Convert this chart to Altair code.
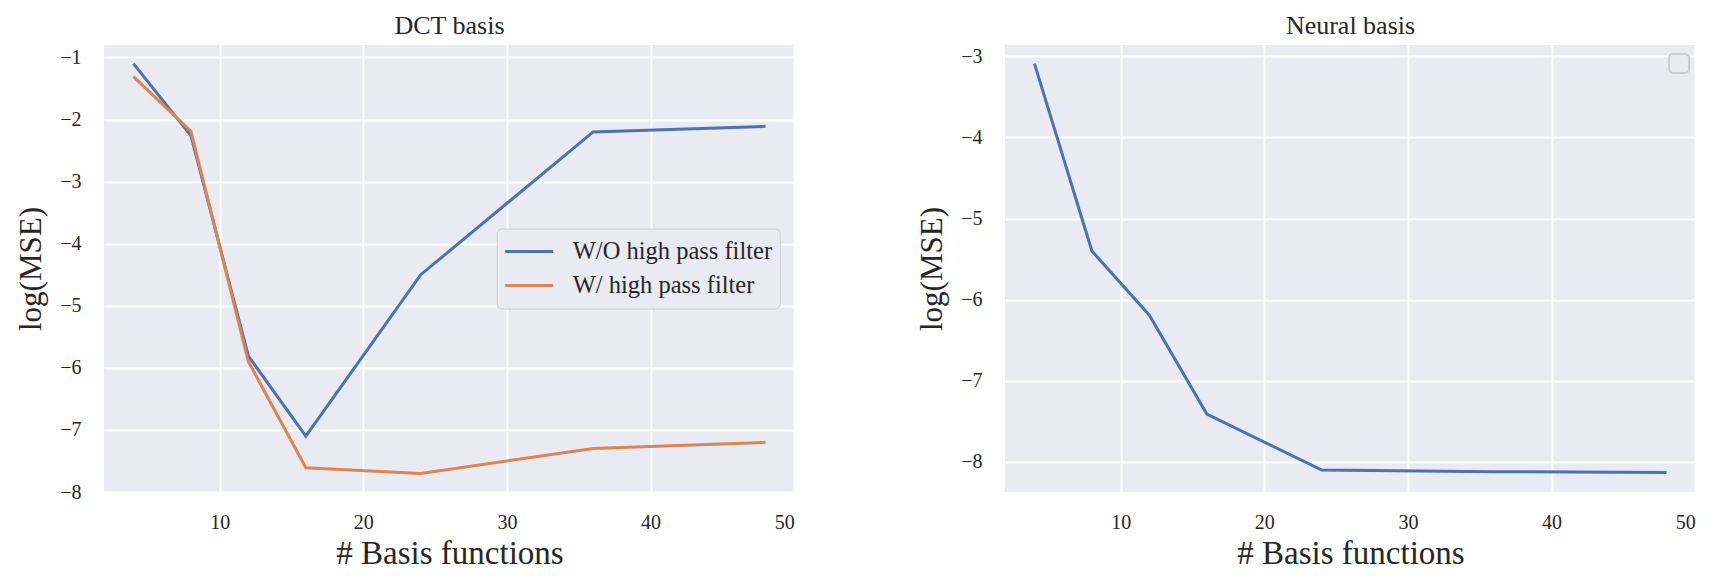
import altair as alt
import pandas as pd

# ---- data ----
n_basis = [4, 8, 12, 16, 24, 36, 48]
dct_without_hp = [-1.10, -2.26, -5.81, -7.10, -4.50, -2.20, -2.11]
dct_with_hp = [-1.31, -2.19, -5.90, -7.61, -7.70, -7.30, -7.20]
neural = [-3.09, -5.40, -6.19, -7.41, -8.10, -8.12, -8.13]

series_names = ["W/O high pass filter", "W/ high pass filter"]
series_colors = ["#4C72B0", "#DD8452"]

x_ticks = [10, 20, 30, 40, 50]
dct_y_ticks = [-8, -7, -6, -5, -4, -3, -2, -1]
neural_y_ticks = [-8, -7, -6, -5, -4, -3]

dct_df = pd.DataFrame(
    {
        "n": n_basis * 2,
        "mse": dct_without_hp + dct_with_hp,
        "series": [series_names[0]] * len(n_basis) + [series_names[1]] * len(n_basis),
    }
)
neural_df = pd.DataFrame({"n": n_basis, "mse": neural})

FONT = "Liberation Serif"
TEXT = "#262626"
W, H = 691, 447

x_axis = alt.Axis(
    values=x_ticks,
    format="d",
    title="# Basis functions",
    labelPadding=20,
    titlePadding=5,
    titleFontSize=33,
)


def y_axis(vals):
    return alt.Axis(
        values=vals,
        format="d",
        title="log(MSE)",
        labelPadding=23,
        titlePadding=12,
    )


left = (
    alt.Chart(dct_df)
    .mark_line(strokeWidth=3)
    .encode(
        x=alt.X("n:Q", scale=alt.Scale(domain=[1.95, 50.05], nice=False, zero=False), axis=x_axis),
        y=alt.Y("mse:Q", scale=alt.Scale(domain=[-8.0, -0.8], nice=False, zero=False), axis=y_axis(dct_y_ticks)),
        color=alt.Color(
            "series:N",
            scale=alt.Scale(domain=series_names, range=series_colors),
            sort=series_names,
            legend=alt.Legend(
                title=None,
                orient="none",
                legendX=392.7,
                legendY=183.5,
                symbolType="stroke",
                symbolSize=2304,
                symbolStrokeWidth=3,
                labelFont=FONT,
                labelFontSize=24.5,
                labelColor=TEXT,
                labelOffset=18,
                labelLimit=500,
                clipHeight=32,
                rowPadding=2,
                padding=7,
                fillColor="#EAEAF2",
                strokeColor="#cccccc",
                cornerRadius=5,
            ),
        ),
    )
    .properties(
        width=W,
        height=H,
        title=alt.TitleParams("DCT basis", frame="group", anchor="middle", baseline="bottom", offset=-20),
    )
)

neural_line = (
    alt.Chart(neural_df)
    .mark_line(strokeWidth=3, color=series_colors[0])
    .encode(
        x=alt.X("n:Q", scale=alt.Scale(domain=[1.95, 50.05], nice=False, zero=False), axis=x_axis),
        y=alt.Y("mse:Q", scale=alt.Scale(domain=[-8.37, -2.86], nice=False, zero=False), axis=y_axis(neural_y_ticks)),
    )
)

# empty legend frame (matplotlib drew a legend with no entries)
empty_legend = (
    alt.Chart(alt.Data(values=[{"k": 1}]))
    .mark_rect(fill="#EAEAF2", stroke="#cccccc", strokeWidth=2, cornerRadius=4)
    .encode(x=alt.value(664), x2=alt.value(684), y=alt.value(9), y2=alt.value(28))
)

right = alt.layer(neural_line, empty_legend).properties(
    width=W,
    height=H,
    title=alt.TitleParams("Neural basis", frame="group", anchor="middle", baseline="bottom", offset=-20),
)

chart = (
    alt.hconcat(left, right, spacing=210, bounds="flush")
    .properties(padding={"left": 7, "top": 5, "right": 5, "bottom": 5})
    .configure(background="white")
    .configure_view(fill="#EAEAF2", stroke=None)
    .configure_axis(
        domain=False,
        ticks=False,
        grid=True,
        gridColor="white",
        gridWidth=2,
        labelFont=FONT,
        labelFontSize=20,
        labelColor=TEXT,
        titleFont=FONT,
        titleFontSize=31,
        titleFontWeight="normal",
        titleColor=TEXT,
    )
    .configure_title(font=FONT, fontSize=26, fontWeight="normal", color=TEXT)
)

chart.save("out.html", embed_options={"renderer": "svg", "actions": False})
